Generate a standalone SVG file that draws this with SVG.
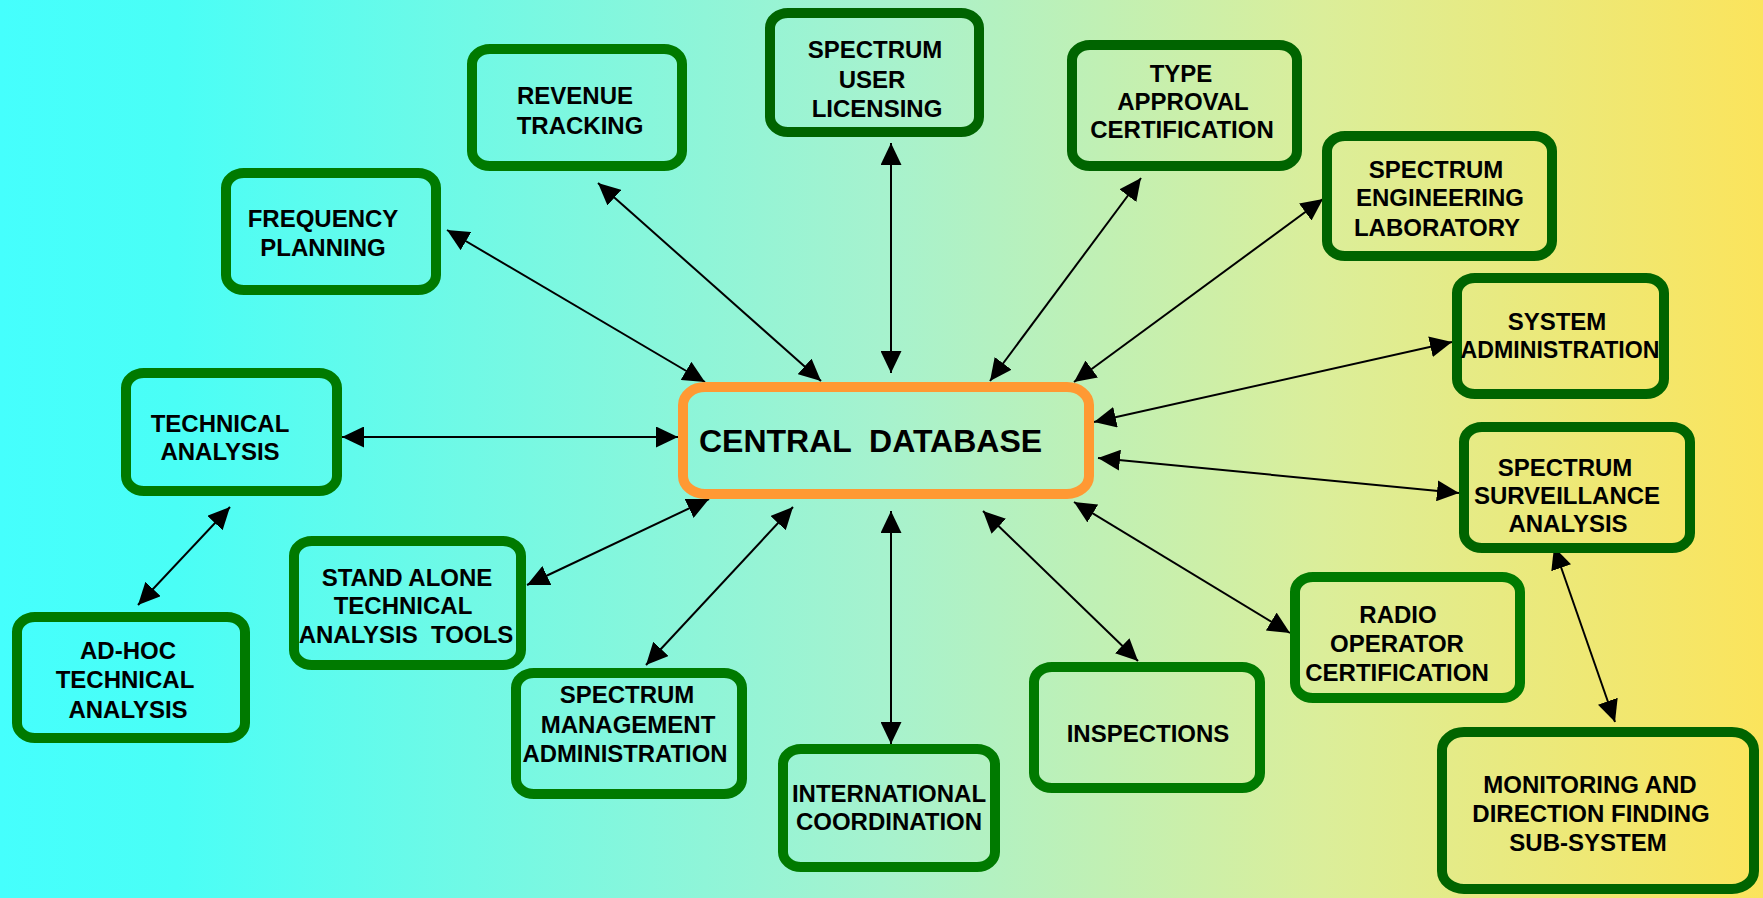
<svg xmlns="http://www.w3.org/2000/svg" width="1763" height="898" viewBox="0 0 1763 898">
  <defs>
    <linearGradient id="bg" x1="0" y1="0" x2="1" y2="0">
      <stop offset="0" stop-color="#45FFFD"/>
      <stop offset="0.1" stop-color="#4AFEF6"/>
      <stop offset="0.5" stop-color="#A6F2CE"/>
      <stop offset="0.75" stop-color="#DBEE9A"/>
      <stop offset="1" stop-color="#FBE45C"/>
    </linearGradient>
    <marker id="ah" viewBox="0 0 22 21" refX="22" refY="10.5" markerWidth="22" markerHeight="21" markerUnits="userSpaceOnUse" orient="auto-start-reverse">
      <path d="M0,0 L22,10.5 L0,21 Z" fill="#000"/>
    </marker>
  </defs>
  <style>
    .box { fill: none; stroke: #007A00; stroke-width: 10; }
    .dark { stroke: #006400; }
    .hub { fill: none; stroke: #FF9933; stroke-width: 10; }
    .t { font-family: "Liberation Sans", Arial, sans-serif; font-weight: bold; font-size: 24px; fill: #000; text-anchor: middle; }
    .big { font-size: 32px; text-anchor: start; }
    .link { stroke: #000; stroke-width: 2; fill: none; marker-start: url(#ah); marker-end: url(#ah); }
  </style>

  <rect width="1763" height="898" fill="url(#bg)"/>

  <!-- connectors -->
  <g id="connectors">
    <line class="link" x1="447" y1="230" x2="705" y2="382"/>
    <line class="link" x1="598" y1="183" x2="821" y2="381"/>
    <line class="link" x1="891" y1="143" x2="891" y2="373"/>
    <line class="link" x1="1141" y1="178" x2="990" y2="381"/>
    <line class="link" x1="1323" y1="199" x2="1074" y2="382"/>
    <line class="link" x1="1452" y1="342" x2="1094" y2="422"/>
    <line class="link" x1="1459" y1="493" x2="1098" y2="458"/>
    <line class="link" x1="1290" y1="633" x2="1074" y2="502"/>
    <line class="link" x1="1138" y1="661" x2="983" y2="511"/>
    <line class="link" x1="891" y1="511" x2="891" y2="744"/>
    <line class="link" x1="646" y1="665" x2="793" y2="507"/>
    <line class="link" x1="527" y1="585" x2="709" y2="499"/>
    <line class="link" x1="342" y1="437" x2="678" y2="437"/>
    <line class="link" x1="230" y1="507" x2="138" y2="605"/>
    <line class="link" x1="1554" y1="547" x2="1615" y2="722"/>
  </g>

  <g id="central-database">
    <rect class="hub" x="683" y="387" width="406" height="107" rx="22" ry="18"/>
    <text class="t big" x="699" y="452" xml:space="preserve">CENTRAL  DATABASE</text>
  </g>

  <g id="frequency-planning">
    <rect class="box" x="226" y="173" width="210" height="117" rx="18" ry="15"/>
    <text class="t" x="323" y="227">FREQUENCY</text>
    <text class="t" x="323" y="256">PLANNING</text>
  </g>

  <g id="revenue-tracking">
    <rect class="box" x="472" y="49" width="210" height="117" rx="18" ry="15"/>
    <text class="t" x="575" y="104">REVENUE</text>
    <text class="t" x="580" y="134">TRACKING</text>
  </g>

  <g id="spectrum-user-licensing">
    <rect class="box dark" x="770" y="13" width="209" height="119" rx="18" ry="15"/>
    <text class="t" x="875" y="58">SPECTRUM</text>
    <text class="t" x="872" y="88">USER</text>
    <text class="t" x="877" y="117">LICENSING</text>
  </g>

  <g id="type-approval">
    <rect class="box dark" x="1072" y="45" width="225" height="121" rx="18" ry="15"/>
    <text class="t" x="1181" y="82">TYPE</text>
    <text class="t" x="1183" y="110">APPROVAL</text>
    <text class="t" x="1182" y="138">CERTIFICATION</text>
  </g>

  <g id="spectrum-engineering-laboratory">
    <rect class="box dark" x="1327" y="136" width="225" height="120" rx="18" ry="15"/>
    <text class="t" x="1436" y="178">SPECTRUM</text>
    <text class="t" x="1440" y="206">ENGINEERING</text>
    <text class="t" x="1437" y="236">LABORATORY</text>
  </g>

  <g id="system-administration">
    <rect class="box dark" x="1457" y="278" width="207" height="116" rx="18" ry="15"/>
    <text class="t" x="1557" y="330">SYSTEM</text>
    <text class="t" x="1560" y="358" textLength="199" lengthAdjust="spacingAndGlyphs">ADMINISTRATION</text>
  </g>

  <g id="spectrum-surveillance-analysis">
    <rect class="box dark" x="1464" y="427" width="226" height="121" rx="18" ry="15"/>
    <text class="t" x="1565" y="476">SPECTRUM</text>
    <text class="t" x="1567" y="504">SURVEILLANCE</text>
    <text class="t" x="1568" y="532">ANALYSIS</text>
  </g>

  <g id="technical-analysis">
    <rect class="box" x="126" y="373" width="211" height="118" rx="18" ry="15"/>
    <text class="t" x="220" y="432">TECHNICAL</text>
    <text class="t" x="220" y="460">ANALYSIS</text>
  </g>

  <g id="ad-hoc-technical-analysis">
    <rect class="box" x="17" y="617" width="228" height="121" rx="18" ry="15"/>
    <text class="t" x="128" y="659">AD-HOC</text>
    <text class="t" x="125" y="688">TECHNICAL</text>
    <text class="t" x="128" y="718">ANALYSIS</text>
  </g>

  <g id="stand-alone-tools">
    <rect class="box" x="294" y="541" width="227" height="124" rx="18" ry="15"/>
    <text class="t" x="407" y="586">STAND ALONE</text>
    <text class="t" x="403" y="614">TECHNICAL</text>
    <text class="t" x="406" y="643" xml:space="preserve">ANALYSIS  TOOLS</text>
  </g>

  <g id="spectrum-management-administration">
    <rect class="box" x="516" y="673" width="226" height="121" rx="18" ry="15"/>
    <text class="t" x="627" y="703">SPECTRUM</text>
    <text class="t" x="628" y="733">MANAGEMENT</text>
    <text class="t" x="625" y="762" textLength="205" lengthAdjust="spacingAndGlyphs">ADMINISTRATION</text>
  </g>

  <g id="international-coordination">
    <rect class="box" x="783" y="749" width="212" height="118" rx="18" ry="15"/>
    <text class="t" x="889" y="802">INTERNATIONAL</text>
    <text class="t" x="889" y="830">COORDINATION</text>
  </g>

  <g id="inspections">
    <rect class="box" x="1034" y="667" width="226" height="121" rx="18" ry="15"/>
    <text class="t" x="1148" y="742">INSPECTIONS</text>
  </g>

  <g id="radio-operator-certification">
    <rect class="box" x="1295" y="577" width="225" height="121" rx="18" ry="15"/>
    <text class="t" x="1398" y="623">RADIO</text>
    <text class="t" x="1397" y="652">OPERATOR</text>
    <text class="t" x="1397" y="681">CERTIFICATION</text>
  </g>

  <g id="monitoring-direction-finding">
    <rect class="box dark" x="1442" y="732" width="312" height="157" rx="22" ry="18"/>
    <text class="t" x="1590" y="793">MONITORING AND</text>
    <text class="t" x="1591" y="822">DIRECTION FINDING</text>
    <text class="t" x="1588" y="851">SUB-SYSTEM</text>
  </g>
</svg>
